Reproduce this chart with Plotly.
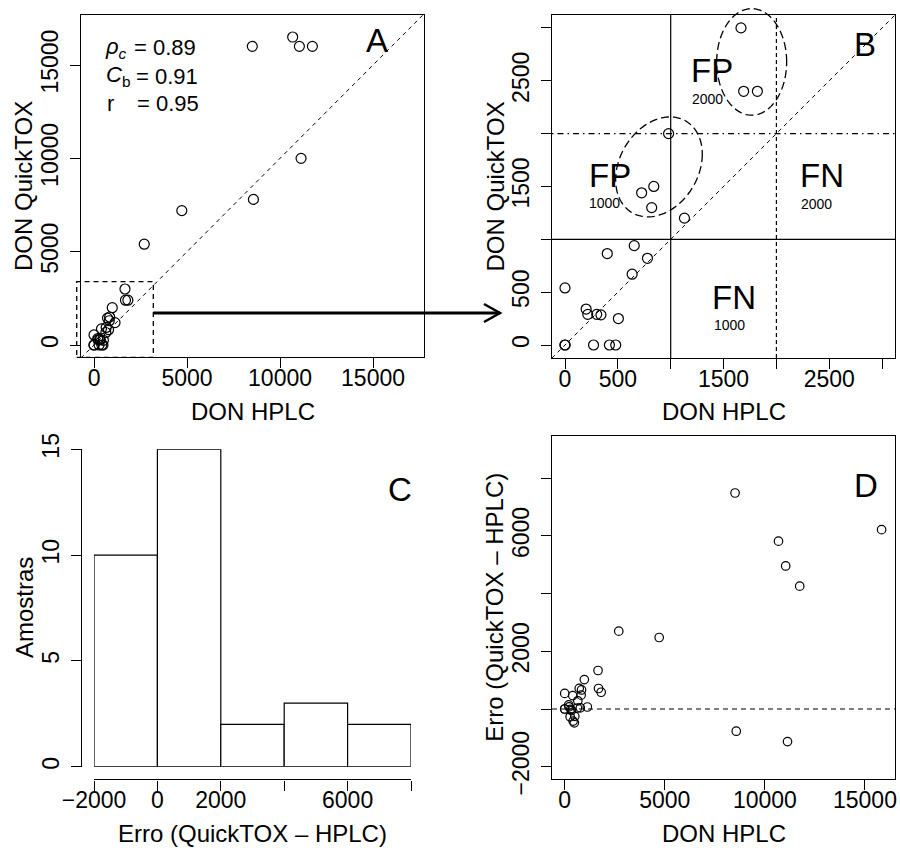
import plotly.graph_objects as go
import numpy as np

W, H = 900, 848
FONT = "Liberation Sans, Arial, sans-serif"

# ---------------- data ----------------
hplc = [0, 0, 0, 200, 215, 300, 340, 270, 420, 480, 505, 400, 635, 655, 780, 725,
        840, 820, 980, 1130, 1665, 1690, 1820, 2700, 4720, 8570, 11130, 8510,
        10680, 11040, 11740, 15830]
quicktox = [0, 0, 540, 340, 290, 290, 285, 0, 0, 0, 250, 865, 670, 940, 820, 1440,
            1500, 1300, 2000, 1200, 3000, 2400, 2400, 5400, 7200, 7800, 10000, 16000,
            16500, 16000, 16000, 22050]
hist_edges = [-2000, 0, 2000, 4000, 6000, 8000]

A_ticks = [0, 5000, 10000, 15000]
A_ticktext = ["0", "5000", "10000", "15000"]
B_ticks = [0, 500, 1500, 2500]
B_ticktext = ["0", "500", "1500", "2500"]
B_minor = [1000, 2000, 3000]
C_xticks = [-2000, 0, 2000, 6000]
C_xticktext = ["\u22122000", "0", "2000", "6000"]
C_xminor = [4000, 8000]
C_yticks = [0, 5, 10, 15]
D_xticks = [0, 5000, 10000, 15000]
D_xticktext = ["0", "5000", "10000", "15000"]
D_yticks = [-2000, 2000, 6000]
D_yticktext = ["\u22122000", "2000", "6000"]
D_yminor = [0, 4000, 8000]

stats = [("<i>\u03c1</i><sub><i>c</i></sub>", "= 0.89"),
         ("<i>C</i><sub>b</sub>", "= 0.91"),
         ("r", "= 0.95")]

# derived
err = np.array([q - h for q, h in zip(quicktox, hplc)])
counts = []
for i in range(len(hist_edges) - 1):
    lo, hi = hist_edges[i], hist_edges[i + 1]
    if i == 0:
        c = np.sum((err >= lo) & (err <= hi))
    else:
        c = np.sum((err > lo) & (err <= hi))
    counts.append(int(c))
centers = [(hist_edges[i] + hist_edges[i + 1]) / 2 for i in range(len(hist_edges) - 1)]
widths = [hist_edges[i + 1] - hist_edges[i] for i in range(len(hist_edges) - 1)]

# ---------------- layout geometry ----------------
def px(x):
    return x / W

def py(y):
    return 1 - y / H

A_dom = dict(x=[px(81), px(424)], y=[py(357), py(15)])
B_dom = dict(x=[px(552), px(895)], y=[py(358), py(15)])
C_dom = dict(x=[px(94), px(411)], y=[py(766.7), py(449.3)])
D_dom = dict(x=[px(552), px(895)], y=[py(779.3), py(436)])

A_xr = [-700, 17740]
A_yr = [-643, 17680]
B_r = [-123, 3122]
D_xr = [-635, 16500]
D_yr = [-2438, 9467]

tickfont = dict(family=FONT, size=23, color="black")
base_ax = dict(showline=True, linecolor="black", linewidth=1.2, ticks="outside",
               ticklen=10, tickwidth=1.2, tickcolor="black", showgrid=False,
               zeroline=False, tickfont=tickfont, tickmode="array", automargin=False)
XSTAND = -10
YSTAND = 3

def minor(vals):
    return dict(tickmode="array", tickvals=vals, ticks="outside", ticklen=10,
                tickwidth=1.2, tickcolor="black", showgrid=False)

fig = go.Figure()

mk = dict(symbol="circle-open", size=10, color="black", line=dict(width=1.2))
fig.add_trace(go.Scatter(x=hplc, y=quicktox, mode="markers", marker=mk,
                         xaxis="x", yaxis="y", hoverinfo="skip"))
fig.add_trace(go.Scatter(x=hplc, y=quicktox, mode="markers", marker=mk,
                         xaxis="x2", yaxis="y2", hoverinfo="skip"))
fig.add_trace(go.Bar(x=centers, y=counts, width=widths, xaxis="x3", yaxis="y3",
                     marker=dict(color="white", line=dict(color="black", width=1.2)),
                     cliponaxis=False, hoverinfo="skip"))
mkD = dict(symbol="circle-open", size=8.5, color="black", line=dict(width=1.2))
fig.add_trace(go.Scatter(x=hplc, y=err.tolist(), mode="markers", marker=mkD,
                         xaxis="x4", yaxis="y4", hoverinfo="skip"))

fig.update_layout(
    width=W, height=H, margin=dict(l=0, r=0, t=0, b=0, pad=0, autoexpand=False),
    paper_bgcolor="white", plot_bgcolor="white", showlegend=False,
    xaxis=dict(base_ax, domain=A_dom["x"], range=A_xr, anchor="y", mirror=True,
               tickvals=A_ticks, ticktext=A_ticktext, ticklabelstandoff=XSTAND),
    yaxis=dict(base_ax, domain=A_dom["y"], range=A_yr, anchor="x", mirror=True,
               tickvals=A_ticks, ticktext=A_ticktext, tickangle=-90, ticklabelstandoff=YSTAND),
    xaxis2=dict(base_ax, domain=B_dom["x"], range=B_r, anchor="y2", mirror=True,
                tickvals=B_ticks, ticktext=B_ticktext, minor=minor(B_minor),
                ticklabelstandoff=XSTAND),
    yaxis2=dict(base_ax, domain=B_dom["y"], range=B_r, anchor="x2", mirror=True,
                tickvals=B_ticks, ticktext=B_ticktext, tickangle=-90, minor=minor(B_minor),
                ticklabelstandoff=YSTAND),
    xaxis3=dict(base_ax, domain=C_dom["x"], range=[hist_edges[0], hist_edges[-1]],
                anchor="free", position=py(779.4), tickvals=C_xticks, ticktext=C_xticktext,
                minor=minor(C_xminor), ticklabelstandoff=XSTAND),
    yaxis3=dict(base_ax, domain=C_dom["y"], range=[0, 15], anchor="free",
                position=px(81), tickvals=C_yticks, tickangle=-90, ticklabelstandoff=YSTAND),
    xaxis4=dict(base_ax, domain=D_dom["x"], range=D_xr, anchor="y4", mirror=True,
                tickvals=D_xticks, ticktext=D_xticktext, ticklabelstandoff=XSTAND),
    yaxis4=dict(base_ax, domain=D_dom["y"], range=D_yr, anchor="x4", mirror=True,
                tickvals=D_yticks, ticktext=D_yticktext, tickangle=-90, minor=minor(D_yminor),
                ticklabelstandoff=YSTAND),
)

shapes = []
# A: identity line
shapes.append(dict(type="line", xref="x", yref="y", x0=A_xr[0], y0=A_xr[0],
                   x1=A_xr[1], y1=A_xr[1], line=dict(color="black", width=1, dash="4px,4px")))

def fr(v, r):
    return (v - r[0]) / (r[1] - r[0])

# A: zoom rectangle
rect = dict(x0=-930, y0=-659, x1=3188, y1=3392)
shapes.append(dict(type="rect", xref="x domain", yref="y domain",
                   x0=fr(rect["x0"], A_xr), x1=fr(rect["x1"], A_xr),
                   y0=fr(rect["y0"], A_yr), y1=fr(rect["y1"], A_yr),
                   line=dict(color="black", width=1.3, dash="5px,4px")))
# arrow from rectangle to panel B
ay = A_dom["y"][0] + fr(1715, A_yr) * (A_dom["y"][1] - A_dom["y"][0])
ax0 = A_dom["x"][0] + fr(rect["x1"], A_xr) * (A_dom["x"][1] - A_dom["x"][0])
ax1 = px(500)
hx, hy = 16 / W, 9 / H
shapes.append(dict(type="path", xref="paper", yref="paper",
                   path=f"M {ax0},{ay} L {ax1},{ay}",
                   line=dict(color="black", width=3)))
shapes.append(dict(type="path", xref="paper", yref="paper",
                   path=f"M {ax1-hx},{ay+hy} L {ax1},{ay} L {ax1-hx},{ay-hy}",
                   line=dict(color="black", width=2.5)))

# B: thresholds
shapes.append(dict(type="line", xref="x2", yref="y2 domain", x0=1000, x1=1000, y0=0, y1=1,
                   line=dict(color="black", width=1.2)))
shapes.append(dict(type="line", xref="x2 domain", yref="y2", x0=0, x1=1, y0=1000, y1=1000,
                   line=dict(color="black", width=1.2)))
shapes.append(dict(type="line", xref="x2", yref="y2 domain", x0=2000, x1=2000, y0=0, y1=1,
                   line=dict(color="black", width=1.2, dash="4px,3px")))
shapes.append(dict(type="line", xref="x2 domain", yref="y2", x0=0, x1=1, y0=2000, y1=2000,
                   line=dict(color="black", width=1.2, dash="1.5px,4px,6px,4px")))
shapes.append(dict(type="line", xref="x2", yref="y2", x0=B_r[0], y0=B_r[0], x1=B_r[1], y1=B_r[1],
                   line=dict(color="black", width=1, dash="4px,4px")))

# B: ellipses (in domain fractions so they may slightly overflow the box)
def ellipse_path(cx, cy, a, b, c, d, r):
    t = np.linspace(0, 2 * np.pi, 121)
    xs = cx + a * np.cos(t) + b * np.sin(t)
    ys = cy + c * np.cos(t) + d * np.sin(t)
    pts = [f"{fr(x, r):.5f},{fr(y, r):.5f}" for x, y in zip(xs, ys)]
    return "M " + " L ".join(pts) + " Z"

shapes.append(dict(type="path", xref="x2 domain", yref="y2 domain",
                   path=ellipse_path(1766, 2678, 331, 0, 0, 504, B_r),
                   line=dict(color="black", width=1.3, dash="8px,4px")))
shapes.append(dict(type="path", xref="x2 domain", yref="y2 domain",
                   path=ellipse_path(889, 1685, 410, 0, 121, -457, B_r),
                   line=dict(color="black", width=1.3, dash="8px,4px")))

# D: zero line
shapes.append(dict(type="line", xref="x4 domain", yref="y4", x0=0, x1=1, y0=0, y1=0,
                   line=dict(color="black", width=1.2, dash="5px,4px")))

fig.update_layout(shapes=shapes)

ann = []
def txt(text, x, y, xref, yref, size, xanchor="center", yanchor="middle", angle=0):
    ann.append(dict(text=text, x=x, y=y, xref=xref, yref=yref, showarrow=False,
                    xanchor=xanchor, yanchor=yanchor, textangle=angle,
                    font=dict(family=FONT, size=size, color="black")))

# panel letters
txt("A", 15200, 16290, "x", "y", 33)
txt("B", 2840, 2845, "x2", "y2", 33)
txt("C", 7668, 13.12, "x3", "y3", 33)
txt("D", 15050, 7739, "x4", "y4", 33)

# B labels
txt("FP", 1395, 2599, "x2", "y2", 33)
txt("2000", 1348, 2330, "x2", "y2", 14)
txt("FP", 423, 1607, "x2", "y2", 33)
txt("1000", 378, 1339, "x2", "y2", 14)
txt("FN", 2436, 1607, "x2", "y2", 33)
txt("2000", 2375, 1336, "x2", "y2", 14)
txt("FN", 1599, 449, "x2", "y2", 33)
txt("1000", 1552, 189, "x2", "y2", 14)

# stats in A
for (lab, val), yy, xl, xe in zip(stats, [48, 76, 104], [103, 104, 105], [131.5, 134, 135]):
    txt(lab, px(xl), py(yy), "paper", "paper", 22, xanchor="left")
    txt(val, px(xe), py(yy), "paper", "paper", 22, xanchor="left")

# axis titles
txt("DON HPLC", px(252.5), py(411), "paper", "paper", 24)
txt("DON HPLC", px(723.5), py(411.5), "paper", "paper", 24)
txt("Erro (QuickTOX \u2013 HPLC)", px(252.5), py(833.5), "paper", "paper", 24)
txt("DON HPLC", px(723.5), py(833.5), "paper", "paper", 24)
txt("DON QuickTOX", px(24), py(186), "paper", "paper", 24, angle=-90)
txt("DON QuickTOX", px(495), py(186.5), "paper", "paper", 24, angle=-90)
txt("Amostras", px(24), py(608), "paper", "paper", 24, angle=-90)
txt("Erro (QuickTOX \u2013 HPLC)", px(495), py(607.7), "paper", "paper", 24, angle=-90)

fig.update_layout(annotations=ann)
fig.write_html("out.html", config={"displayModeBar": False},
               post_script="document.body.style.margin='0';document.body.style.padding='0';"
                           "document.body.style.overflow='hidden';")
